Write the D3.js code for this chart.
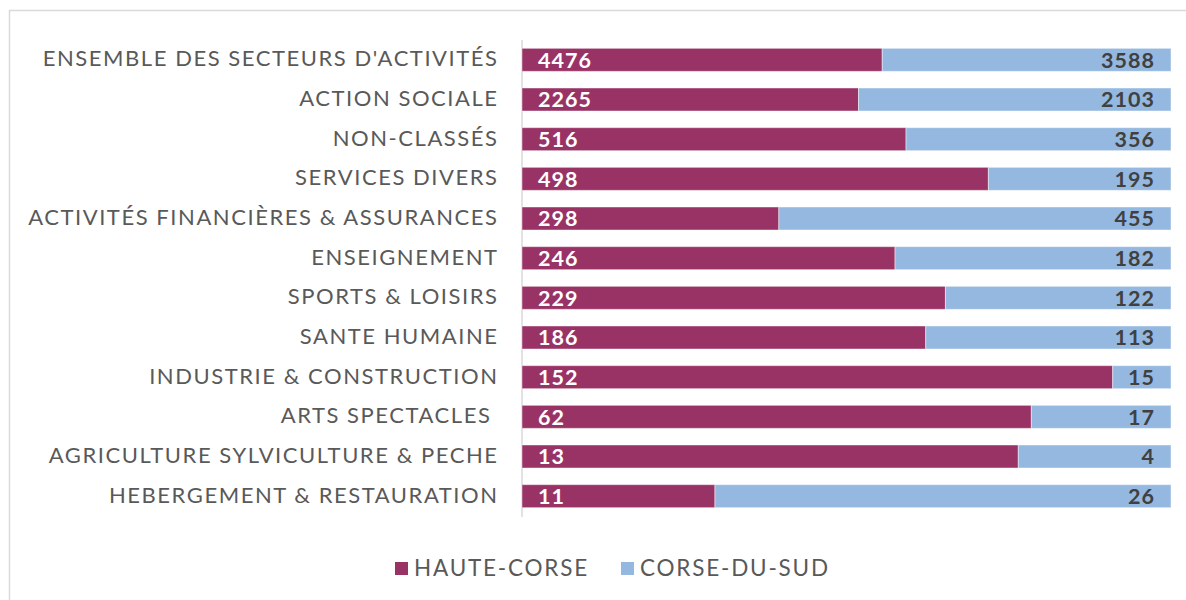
<!DOCTYPE html>
<html>
<head>
<meta charset="utf-8">
<script src="https://cdn.jsdelivr.net/npm/d3@7"></script>
<style>
  body { margin: 0; background: #fff; }
  svg { display: block; }
</style>
</head>
<body>
<div id="chart"></div>
<script>
const categories = [
  "ENSEMBLE DES SECTEURS D'ACTIVITÉS",
  "ACTION SOCIALE",
  "NON-CLASSÉS",
  "SERVICES DIVERS",
  "ACTIVITÉS FINANCIÈRES & ASSURANCES",
  "ENSEIGNEMENT",
  "SPORTS & LOISIRS",
  "SANTE HUMAINE",
  "INDUSTRIE & CONSTRUCTION",
  "ARTS SPECTACLES ",
  "AGRICULTURE SYLVICULTURE & PECHE",
  "HEBERGEMENT & RESTAURATION"
];
const hauteCorse = [4476, 2265, 516, 498, 298, 246, 229, 186, 152, 62, 13, 11];
const corseDuSud = [3588, 2103, 356, 195, 455, 182, 122, 113, 15, 17, 4, 26];
const seriesNames = ["HAUTE-CORSE", "CORSE-DU-SUD"];

const settings = {
  color: {
    haute: '#993366',
    sud: '#95b8e0',
    label: '#595959',
    valueDark: '#404040',
    frame: '#d9d9d9'
  },
  font: 'Lato, "Open Sans", sans-serif'
};

const totalWidth = 1186,
  totalHeight = 600;
const plot = { left: 522, right: 1171, top: 40, bottom: 516 };
const labelSpacing = 1.55,
  valueSpacing = 1;

const data = categories.map((c, i) => {
  const total = hauteCorse[i] + corseDuSud[i];
  return { name: c, haute: hauteCorse[i], sud: corseDuSud[i], total: total };
});

const svg = d3.select('#chart').append('svg')
  .attr('width', totalWidth)
  .attr('height', totalHeight);

// frame
svg.append('rect')
  .attr('x', 9.5).attr('y', 10.5)
  .attr('width', 1200).attr('height', 620)
  .attr('fill', 'none')
  .attr('stroke', settings.color.frame)
  .attr('stroke-width', 1.5);

//-------------------- Scales --------------------------------------------------
const xScale = d3.scaleLinear().domain([0, 1]).range([plot.left, plot.right]);
const yScale = d3.scaleBand()
  .domain(categories)
  .range([plot.top, plot.bottom])
  .paddingInner(0.42)
  .paddingOuter(0.21);

//-------------------- Axis ----------------------------------------------------
const yAxis = d3.axisLeft(yScale).tickSize(0).tickPadding(25 - labelSpacing);
const yAxisView = svg.append('g')
  .attr('transform', 'translate(' + plot.left + ',0)')
  .call(yAxis);
yAxisView.select('path')
  .attr('d', 'M0,' + plot.top + 'V' + (plot.bottom + 1))
  .style('stroke', settings.color.frame)
  .style('stroke-width', 1.5);
yAxisView.selectAll('text')
  .style('font-family', settings.font)
  .style('font-size', '22px')
  .style('letter-spacing', labelSpacing + 'px')
  .style('white-space', 'pre')
  .style('fill', settings.color.label)
  .attr('dy', '0.3em');

//-------------------- Bars ----------------------------------------------------
const rows = svg.append('g').selectAll('g')
  .data(data)
  .enter()
  .append('g')
  .attr('transform', d => 'translate(0,' + yScale(d.name) + ')');

rows.append('rect')
  .attr('x', xScale(0))
  .attr('width', d => xScale(d.haute / d.total) - xScale(0))
  .attr('height', yScale.bandwidth())
  .attr('fill', settings.color.haute)
  .attr('stroke', 'rgba(255,255,255,0.45)')
  .attr('stroke-width', 1);

rows.append('rect')
  .attr('x', d => xScale(d.haute / d.total))
  .attr('width', d => xScale(1) - xScale(d.haute / d.total))
  .attr('height', yScale.bandwidth())
  .attr('fill', settings.color.sud)
  .attr('stroke', 'rgba(255,255,255,0.45)')
  .attr('stroke-width', 1);

rows.append('text')
  .attr('x', xScale(0) + 16)
  .attr('y', yScale.bandwidth() / 2)
  .attr('dy', '0.37em')
  .style('font-family', settings.font)
  .style('font-size', '21.5px')
  .style('font-weight', 'bold')
  .style('letter-spacing', valueSpacing + 'px')
  .style('fill', '#fff')
  .text(d => d.haute);

rows.append('text')
  .attr('x', xScale(1) - 17 + valueSpacing)
  .attr('y', yScale.bandwidth() / 2)
  .attr('dy', '0.37em')
  .attr('text-anchor', 'end')
  .style('font-family', settings.font)
  .style('font-size', '21.5px')
  .style('font-weight', 'bold')
  .style('letter-spacing', valueSpacing + 'px')
  .style('fill', settings.color.valueDark)
  .text(d => d.sud);

//-------------------- Legend --------------------------------------------------
const legendX = [395, 621];
const legend = svg.append('g').selectAll('g')
  .data(seriesNames)
  .enter()
  .append('g')
  .attr('transform', (d, i) => 'translate(' + legendX[i] + ',562)');

legend.append('rect')
  .attr('width', 13).attr('height', 13)
  .attr('fill', (d, i) => i === 0 ? settings.color.haute : settings.color.sud);

legend.append('text')
  .attr('x', 19)
  .attr('y', 6.5)
  .attr('dy', '0.34em')
  .style('font-family', settings.font)
  .style('font-size', '22.5px')
  .style('letter-spacing', '1.8px')
  .style('fill', settings.color.label)
  .text(d => d);
</script>
</body>
</html>
